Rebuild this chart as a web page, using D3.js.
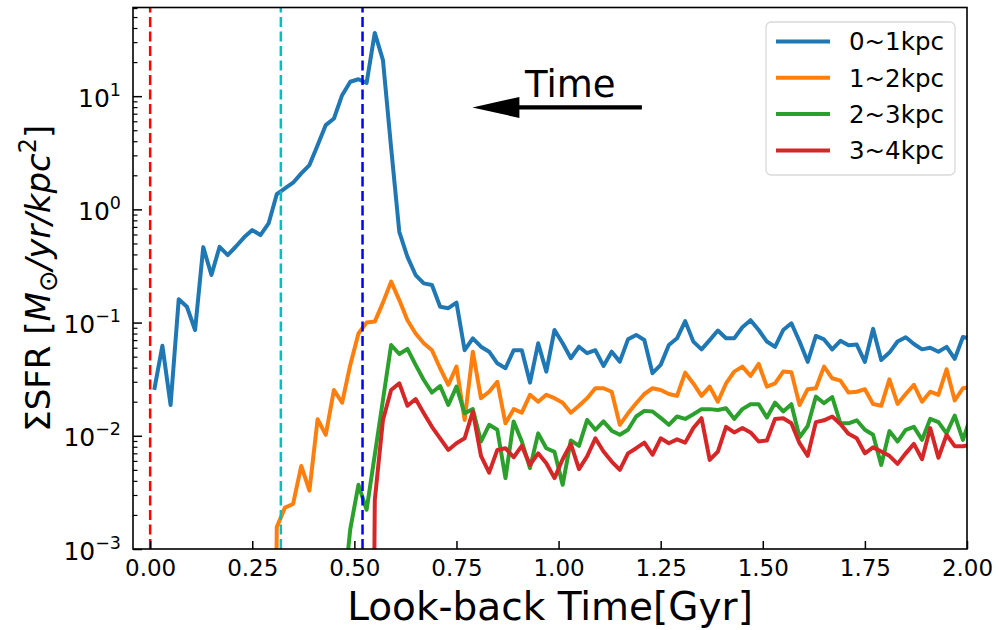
<!DOCTYPE html>
<html><head><meta charset="utf-8">
<script src="https://cdn.jsdelivr.net/npm/d3@7"></script>
<style>body{margin:0;background:#fff}svg{display:block;font-family:"DejaVu Sans",sans-serif}</style>
</head><body><svg id="c" width="1000" height="630"></svg>
<script>
const times=[0.01,0.03,0.05,0.07,0.09,0.11,0.13,0.15,0.17,0.19,0.21,0.23,0.25,0.27,0.29,0.31,0.33,0.35,0.37,0.39,0.41,0.43,0.45,0.47,0.49,0.51,0.53,0.55,0.57,0.59,0.61,0.63,0.65,0.67,0.69,0.71,0.73,0.75,0.77,0.79,0.81,0.83,0.85,0.87,0.89,0.91,0.93,0.95,0.97,0.99,1.01,1.03,1.05,1.07,1.09,1.11,1.13,1.15,1.17,1.19,1.21,1.23,1.25,1.27,1.29,1.31,1.33,1.35,1.37,1.39,1.41,1.43,1.45,1.47,1.49,1.51,1.53,1.55,1.57,1.59,1.61,1.63,1.65,1.67,1.69,1.71,1.73,1.75,1.77,1.79,1.81,1.83,1.85,1.87,1.89,1.91,1.93,1.95,1.97,1.99,2.01];
const sfr0to1=[0.0254,0.0625,0.0187,0.161,0.138,0.086,0.464,0.263,0.467,0.395,
0.47,0.566,0.656,0.593,0.751,1.36,1.53,1.72,2.08,2.46,
3.69,5.55,6.35,10.2,13.4,14.1,13.1,36.2,20.8,3.5,
0.634,0.38,0.263,0.222,0.215,0.138,0.134,0.15,0.057,0.0726,
0.0612,0.0553,0.0437,0.0395,0.057,0.057,0.0295,0.0656,0.0369,0.086,
0.0656,0.0484,0.0612,0.0536,0.057,0.0414,0.0553,0.0452,0.0711,0.0778,
0.0702,0.0357,0.0423,0.0634,0.0726,0.103,0.0679,0.058,0.070,0.085,
0.0726,0.0726,0.091,0.105,0.086,0.068,0.061,0.086,0.0986,0.068,
0.045,0.0762,0.071,0.058,0.069,0.063,0.064,0.045,0.088,0.0467,
0.0543,0.068,0.0742,0.0647,0.058,0.060,0.0553,0.061,0.0478,0.0745,
0.072];
const sfr1to2=[0,0,0,0,0,0,0,0,0,0,
0,0,0,0,0,0.00156,0.00232,0.0025,0.00542,0.00328,
0.014,0.0102,0.0254,0.0196,0.0423,0.080,0.100,0.102,0.15,0.23,
0.158,0.105,0.08,0.0656,0.057,0.0395,0.0282,0.0408,0.0138,0.0553,
0.0215,0.0245,0.030,0.0129,0.0172,0.016,0.023,0.020,0.023,0.0215,
0.0196,0.016,0.0184,0.0215,0.0263,0.0263,0.0245,0.0125,0.0158,0.0194,
0.0234,0.0263,0.0254,0.0234,0.0225,0.0361,0.029,0.0225,0.0272,0.020,
0.029,0.0369,0.0408,0.0338,0.0431,0.0272,0.029,0.0369,0.0365,0.0187,
0.0258,0.0263,0.0408,0.0322,0.0307,0.0241,0.0245,0.0258,0.0191,0.0184,
0.0315,0.0191,0.0234,0.0282,0.020,0.0245,0.023,0.0387,0.0205,0.0263,
0.027];
const sfr2to3=[0,0,0,0,0,0,0,0,0,0,
0,0,0,0,0,0,0,0,0,0,
0,0,0,0.0003,0.0015,0.00369,0.00222,0.0068,0.0207,0.0634,
0.0528,0.0585,0.0423,0.0311,0.0241,0.0275,0.0187,0.0272,0.0158,0.0172,
0.0089,0.0125,0.0113,0.00423,0.0134,0.0089,0.00518,0.0105,0.00777,0.0072,
0.00369,0.0091,0.00815,0.0138,0.0113,0.0134,0.0111,0.0102,0.0113,0.0148,
0.0166,0.0164,0.0144,0.0125,0.0148,0.0141,0.0155,0.0172,0.0172,0.0169,
0.0175,0.0141,0.0172,0.019,0.019,0.0145,0.0196,0.0164,0.019,0.0097,
0.0122,0.0222,0.0194,0.022,0.0129,0.0129,0.0137,0.0113,0.0102,0.00553,
0.011,0.0089,0.0113,0.012,0.0092,0.0141,0.0132,0.0105,0.0151,0.0092,
0.0151];
const sfr3to4=[0,0,0,0,0,0,0,0,0,0,
0,0,0,0,0,0,0,0,0,0,
0,0,0,0,0,0,0,0.0027,0.0138,0.0254,
0.0291,0.0184,0.0211,0.0158,0.012,0.0095,0.0075,0.0086,0.0095,0.0164,
0.00665,0.00473,0.0075,0.00777,0.00646,0.00815,0.00553,0.0070,0.00573,0.00423,
0.00621,0.00848,0.00507,0.0066,0.0095,0.00726,0.00592,0.005,0.007,0.00777,
0.0087,0.0068,0.0095,0.0086,0.0093,0.0087,0.0117,0.0143,0.00612,0.00726,
0.012,0.0107,0.0117,0.0107,0.0089,0.0091,0.0141,0.0143,0.0129,0.0086,
0.00665,0.0132,0.0137,0.0148,0.0127,0.0104,0.0095,0.007,0.0079,0.00726,
0.00665,0.00565,0.007,0.00848,0.00621,0.0117,0.0064,0.0102,0.0081,0.0081,
0.0083];
const seriesNames=["0~1kpc","1~2kpc","2~3kpc","3~4kpc"];
const seriesColors=["#1f77b4","#ff7f0e","#2ca02c","#d62728"];
const seriesValues=[sfr0to1,sfr1to2,sfr2to3,sfr3to4];
const vlineTimes=[0.0,0.32,0.52];
const vlineColors=["#ff0000","#00bfbf","#0000ff"];
const xTicks=[0,0.25,0.5,0.75,1.0,1.25,1.5,1.75,2.0];
const yExps=[-3,-2,-1,0,1];
const arrowFrom=[1.204,7.95], arrowTo=[0.789,7.95];
const timeLabelPos=[0.918,9.86];

const svg=d3.select("#c");
const L=133,R=967,T=7.5,B=549;
const x=d3.scaleLinear().domain([-0.042,2.0]).range([L,R]);
const y=d3.scaleLog().domain([1e-3,60.7]).range([B,T]);

svg.append("defs").append("clipPath").attr("id","clip").append("rect")
  .attr("x",L).attr("y",T).attr("width",R-L).attr("height",B-T);

const plot=svg.append("g").attr("clip-path","url(#clip)");
const tiny=1e-12;
const line=d3.line().x(d=>x(d[0])).y(d=>{const v=d[1]>0?d[1]:tiny;return Math.min(y(v),5000);}).curve(d3.curveLinear);
seriesValues.forEach((vals,i)=>{
  plot.append("path").datum(times.map((t,j)=>[t,vals[j]]))
    .attr("d",line).attr("fill","none").attr("stroke",seriesColors[i])
    .attr("stroke-width",4).attr("stroke-linejoin","round").attr("stroke-linecap","butt");
});
vlineTimes.forEach((t,i)=>{
  plot.append("line").attr("x1",x(t)).attr("x2",x(t)).attr("y1",B).attr("y2",T)
    .attr("stroke",vlineColors[i]).attr("stroke-width",2.5).attr("stroke-dasharray","10,4.5");
});

// axes
const xAxis=d3.axisBottom(x).tickValues(xTicks).tickFormat(d3.format(".2f")).tickSizeInner(-8).tickSizeOuter(0).tickPadding(11);
const gx=svg.append("g").attr("transform",`translate(0,${B})`).call(xAxis);
gx.select(".domain").remove();
gx.selectAll(".tick line").attr("stroke","#000").attr("stroke-width",1.5);
gx.selectAll(".tick text").attr("font-size",23).attr("fill","#000").attr("font-family","DejaVu Sans");

const majors=yExps.map(e=>Math.pow(10,e));
const minors=[];
yExps.forEach(e=>{for(let k=2;k<=9;k++){const v=k*Math.pow(10,e);if(v<=60.7)minors.push(v);}});
const yMinor=d3.axisLeft(y).tickValues(minors).tickFormat("").tickSizeInner(-4.5).tickSizeOuter(0);
const gym=svg.append("g").attr("transform",`translate(${L},0)`).call(yMinor);
gym.select(".domain").remove();
gym.selectAll(".tick line").attr("stroke","#000").attr("stroke-width",1.2);
const yAxis=d3.axisLeft(y).tickValues(majors).tickSizeInner(-9).tickSizeOuter(0).tickPadding(12);
const gy=svg.append("g").attr("transform",`translate(${L},0)`).call(yAxis);
gy.select(".domain").remove();
gy.selectAll(".tick line").attr("stroke","#000").attr("stroke-width",1.5);
gy.selectAll(".tick text").attr("font-size",25).attr("fill","#000").attr("font-family","DejaVu Sans").attr("dy","0.4em")
  .each(function(d){
    const e=Math.round(Math.log10(d));
    const t=d3.select(this);t.text(null);
    t.append("tspan").text("10");
    t.append("tspan").attr("dy",-11).attr("font-size",17.5).text(e<0?"\u2212"+(-e):String(e));
  });

// frame
svg.append("rect").attr("x",L).attr("y",T).attr("width",R-L).attr("height",B-T)
  .attr("fill","none").attr("stroke","#000").attr("stroke-width",1.6);

// axis labels
svg.append("text").attr("x",(L+R)/2).attr("y",620).attr("text-anchor","middle")
  .attr("font-size",39).text("Look-back Time[Gyr]");
const yl=svg.append("text").attr("transform",`translate(50,${(T+B)/2}) rotate(-90)`).attr("text-anchor","middle").attr("font-size",34);
yl.append("tspan").text("\u03A3SFR [");
yl.append("tspan").attr("font-style","italic").text("M");
yl.append("tspan").attr("dy",7).attr("font-size",26).text("\u2299");
yl.append("tspan").attr("dy",-7).attr("font-style","italic").text("/yr/kpc");
yl.append("tspan").attr("dy",-14).attr("font-size",24).text("2");
yl.append("tspan").attr("dy",14).text("]");

// Time annotation
const ax0=x(arrowFrom[0]),ay=y(arrowFrom[1]),ax1=x(arrowTo[0]);
svg.append("line").attr("x1",ax0).attr("x2",ax1+44).attr("y1",ay).attr("y2",ay).attr("stroke","#000").attr("stroke-width",4.3);
svg.append("path").attr("d",`M${ax1},${ay} L${ax1+47},${ay-10.5} L${ax1+47},${ay+10.5} Z`).attr("fill","#000");
svg.append("text").attr("x",x(timeLabelPos[0])).attr("y",y(timeLabelPos[1])).attr("font-size",37).text("Time");

// legend
const lg=svg.append("g");
lg.append("rect").attr("x",766).attr("y",22).attr("width",189).attr("height",153).attr("rx",5)
  .attr("fill","#fff").attr("fill-opacity",0.8).attr("stroke","#d9d9d9").attr("stroke-width",1.3);
seriesNames.forEach((n,i)=>{
  const yy=41.5+i*36.3;
  lg.append("line").attr("x1",776).attr("x2",830).attr("y1",yy).attr("y2",yy).attr("stroke",seriesColors[i]).attr("stroke-width",4);
  lg.append("text").attr("x",849).attr("y",yy+8.8).attr("font-size",24.5).text(n);
});
</script></body></html>
